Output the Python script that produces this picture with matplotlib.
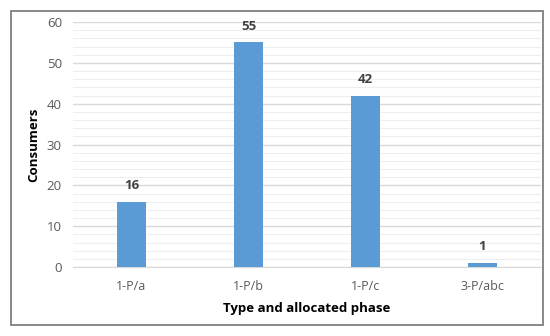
import matplotlib
matplotlib.use("Agg")
import matplotlib.pyplot as plt
from matplotlib.patches import Rectangle
from matplotlib.ticker import MultipleLocator

categories = ["1-P/a", "1-P/b", "1-P/c", "3-P/abc"]
consumers = [16, 55, 42, 1]

plt.rcParams['font.family'] = ['Open Sans', 'DejaVu Sans']

fig = plt.figure(figsize=(5.5, 3.36), dpi=100)
fig.patches.append(Rectangle((11/550, 1-325/336), (543-11)/550, (325-11)/336,
                             transform=fig.transFigure, fill=False,
                             edgecolor="#7f7f7f", linewidth=1.3))
ax = fig.add_axes([73/550, 1-267/336, (541-73)/550, (267-22)/336])

x = range(len(categories))
ax.bar(x, consumers, width=0.25, color="#5B9BD5", zorder=3)
for xi, v in zip(x, consumers):
    ax.annotate(str(v), (xi, v), xytext=(0, 7), textcoords="offset points",
                ha="center", va="bottom", fontsize=9.5, fontweight="bold", color="#404040")

ax.set_xlim(-0.5, 3.5)
ax.set_ylim(0, 60)
ax.yaxis.set_major_locator(MultipleLocator(10))
ax.yaxis.set_minor_locator(MultipleLocator(2))
ax.grid(axis="y", which="major", color="#d9d9d9", linewidth=1.0, zorder=0)
ax.grid(axis="y", which="minor", color="#eeeeee", linewidth=0.8, zorder=0)
ax.set_xticks(list(x))
ax.set_xticklabels(categories)
ax.tick_params(axis="both", which="both", length=0, colors="#595959")
ax.tick_params(axis="x", pad=9, labelsize=9)
ax.tick_params(axis="y", pad=8, labelsize=9.5)
for s in ["top", "right", "left"]:
    ax.spines[s].set_visible(False)
ax.spines["bottom"].set_color("#d9d9d9")
ax.set_ylabel("Consumers", fontsize=9.5, fontweight="bold", color="black")
ax.yaxis.set_label_coords(-0.07, 0.5)
ax.set_xlabel("Type and allocated phase", fontsize=9.5, fontweight="bold", color="black", labelpad=7)

fig.savefig("out.png", dpi=100)
